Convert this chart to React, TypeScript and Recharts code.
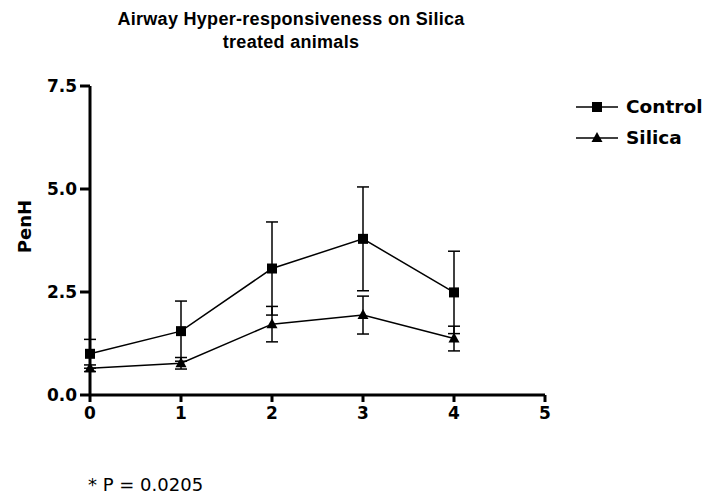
import React from 'react';
import { LineChart, Line, XAxis, YAxis, Legend, ErrorBar } from 'recharts';

// time points (x axis)
const days = [0, 1, 2, 3, 4];

// PenH means and error (SEM)
const controlMean = [1.0, 1.55, 3.07, 3.79, 2.49];
const controlErr = [0.35, 0.73, 1.13, 1.26, 1.0];
const silicaMean = [0.65, 0.77, 1.72, 1.94, 1.37];
const silicaErr = [0.08, 0.14, 0.43, 0.46, 0.3];

const xTicks = [0, 1, 2, 3, 4, 5];
const yTicks = [0, 2.5, 5, 7.5];

const data = days.map((d, i) => ({
  day: d,
  control: controlMean[i],
  controlErr: controlErr[i],
  silica: silicaMean[i],
  silicaErr: silicaErr[i],
}));

const FONT = '"Liberation Sans", Arial, sans-serif';
const WIDE = '"DejaVu Sans", sans-serif';

const SquareDot = (props: any) => {
  const { cx, cy, key } = props;
  if (cx == null || cy == null) return null;
  return <rect key={key} x={cx - 5} y={cy - 5} width={10} height={10} fill="#000" />;
};

const TriangleDot = (props: any) => {
  const { cx, cy, key } = props;
  if (cx == null || cy == null) return null;
  return <polygon key={key} points={`${cx},${cy - 6} ${cx - 5.5},${cy + 4} ${cx + 5.5},${cy + 4}`} fill="#000" />;
};

const renderLegend = (props: any) => {
  const { payload } = props;
  return (
    <div style={{ fontFamily: WIDE, fontWeight: 'bold', fontSize: 18.5, color: '#000' }}>
      {payload.map((entry: any) => (
        <div key={entry.value} style={{ display: 'flex', alignItems: 'center', height: 31 }}>
          <svg width={44} height={14} style={{ marginRight: 6 }}>
            <line x1={0} y1={7} x2={42} y2={7} stroke="#000" strokeWidth={1.5} />
            {entry.value === 'Control' ? (
              <rect x={16} y={2} width={10} height={10} fill="#000" />
            ) : (
              <polygon points="21,1 15.5,11 26.5,11" fill="#000" />
            )}
          </svg>
          <span>{entry.value}</span>
        </div>
      ))}
    </div>
  );
};

const PenHLabel = (props: any) => {
  const { viewBox } = props;
  const cy = viewBox.y + viewBox.height / 2 - 14;
  return (
    <text
      x={31}
      y={cy}
      transform={`rotate(-90, 31, ${cy})`}
      textAnchor="middle"
      fontFamily={WIDE}
      fontWeight="bold"
      fontSize={18}
      fill="#000"
    >
      PenH
    </text>
  );
};

export default function App() {
  const tickStyle = { fill: '#000', fontSize: 17, fontWeight: 'bold', fontFamily: WIDE };
  return (
    <div style={{ position: 'absolute', left: 0, top: 0, width: 706, height: 500, background: '#fff' }}>
      <div
        style={{
          position: 'absolute',
          left: 0,
          width: 582,
          top: 8,
          textAlign: 'center',
          fontFamily: FONT,
          fontWeight: 'bold',
          fontSize: 18,
          lineHeight: '23px',
          color: '#000',
        }}
      >
        <div style={{ letterSpacing: 0.3 }}>Airway Hyper-responsiveness on Silica</div>
        <div style={{ letterSpacing: 0.3 }}>treated animals</div>
      </div>

      <LineChart
        width={706}
        height={500}
        data={data}
        margin={{ top: 86, right: 161, bottom: 75, left: 0 }}
      >
        <XAxis
          dataKey="day"
          type="number"
          domain={[0, 5]}
          ticks={xTicks}
          height={30}
          tickSize={7}
          tickMargin={5}
          tick={tickStyle}
          axisLine={{ stroke: '#000', strokeWidth: 3 }}
          tickLine={{ stroke: '#000', strokeWidth: 3 }}
        />
        <YAxis
          type="number"
          domain={[0, 7.5]}
          ticks={yTicks}
          width={90}
          tickSize={10}
          tickMargin={3}
          tick={tickStyle}
          tickFormatter={(v: number) => v.toFixed(1)}
          axisLine={{ stroke: '#000', strokeWidth: 3 }}
          tickLine={{ stroke: '#000', strokeWidth: 3 }}
          label={<PenHLabel />}
        />
        <Legend
          layout="vertical"
          verticalAlign="middle"
          align="center"
          content={renderLegend}
          wrapperStyle={{ left: 576, top: 91, width: 130 }}
        />
        <Line
          name="Control"
          dataKey="control"
          stroke="#000"
          strokeWidth={1.5}
          dot={SquareDot}
          activeDot={false}
          isAnimationActive={false}
        >
          <ErrorBar dataKey="controlErr" width={6} stroke="#000" strokeWidth={1.5} direction="y" />
        </Line>
        <Line
          name="Silica"
          dataKey="silica"
          stroke="#000"
          strokeWidth={1.5}
          dot={TriangleDot}
          activeDot={false}
          isAnimationActive={false}
        >
          <ErrorBar dataKey="silicaErr" width={6} stroke="#000" strokeWidth={1.5} direction="y" />
        </Line>
      </LineChart>

      <div
        style={{
          position: 'absolute',
          left: 88,
          top: 474,
          fontFamily: WIDE,
          fontSize: 18,
          color: '#000',
          whiteSpace: 'pre',
        }}
      >
        * P = 0.0205
      </div>
    </div>
  );
}
